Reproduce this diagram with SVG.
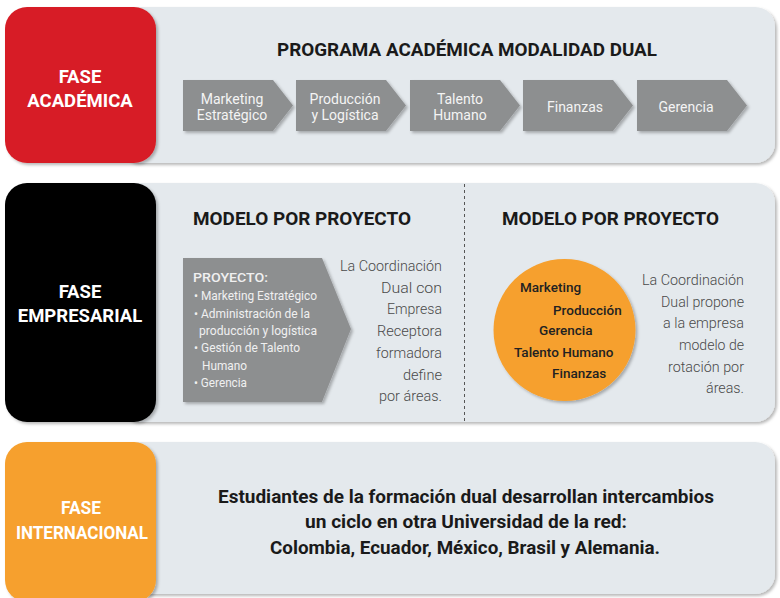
<svg xmlns="http://www.w3.org/2000/svg" width="780" height="598" viewBox="0 0 780 598">
<defs>
<filter id="sh" x="-5%" y="-5%" width="110%" height="115%">
<feDropShadow dx="2" dy="2" stdDeviation="1.6" flood-color="#000" flood-opacity="0.28"/>
</filter>
<style>
.panel{fill:#E4E9ED;filter:url(#sh)}
.phase{filter:url(#sh)}
.plabel{font-family:Roboto,"Liberation Sans",sans-serif;font-weight:700;font-size:18.5px;fill:#fff;text-anchor:middle}
.title{font-family:Roboto,"Liberation Sans",sans-serif;font-weight:700;font-size:18.5px;fill:#1a1a1a}
.chev{fill:#8D8F90;filter:url(#sh)}
.ctext{font-family:Roboto,"Liberation Sans",sans-serif;font-weight:400;font-size:14px;fill:#F4F4F4;text-anchor:middle}
.ptext{font-family:Roboto,"Liberation Sans",sans-serif;font-size:13px;fill:#F0F0F0}
.desc{font-family:Roboto,"Liberation Sans",sans-serif;font-weight:300;font-size:15px;fill:#4a4a4a;text-anchor:end}
.circ{font-family:Roboto,"Liberation Sans",sans-serif;font-weight:500;font-size:13.5px;fill:#222}
.intl{font-family:Roboto,"Liberation Sans",sans-serif;font-weight:700;font-size:18px;fill:#1a1a1a;text-anchor:middle}
</style>
</defs>
<rect width="780" height="598" fill="#fff"/>

<!-- Row 1 -->
<g id="panel-academica">
<rect class="panel" x="120" y="7" width="655" height="156" rx="20"/>
<text class="title" x="277" y="56" textLength="380" lengthAdjust="spacingAndGlyphs">PROGRAMA ACADÉMICA MODALIDAD DUAL</text>
</g>
<g id="fase-academica">
<rect class="phase" x="5" y="7" width="151" height="156" rx="22" fill="#D71F26"/>
<text class="plabel" x="80" y="83">FASE</text>
<text class="plabel" x="80" y="107">ACADÉMICA</text>
</g>
<g id="chev-marketing">
<path class="chev" d="M183 80 H273 L293 105.5 L273 131 H183 Z"/>
<text class="ctext" x="232" y="104">Marketing</text>
<text class="ctext" x="232" y="120">Estratégico</text>
</g>
<g id="chev-produccion">
<path class="chev" d="M296 80 H386 L406 105.5 L386 131 H296 Z"/>
<text class="ctext" x="345" y="104">Producción</text>
<text class="ctext" x="345" y="120">y Logística</text>
</g>
<g id="chev-talento">
<path class="chev" d="M410 80 H500 L520 105.5 L500 131 H410 Z"/>
<text class="ctext" x="460" y="104">Talento</text>
<text class="ctext" x="460" y="120">Humano</text>
</g>
<g id="chev-finanzas">
<path class="chev" d="M523 80 H613 L633 105.5 L613 131 H523 Z"/>
<text class="ctext" x="575" y="112">Finanzas</text>
</g>
<g id="chev-gerencia">
<path class="chev" d="M637 80 H727 L747 105.5 L727 131 H637 Z"/>
<text class="ctext" x="686" y="112">Gerencia</text>
</g>

<!-- Row 2 -->
<g id="panel-empresarial">
<rect class="panel" x="120" y="183" width="655" height="239" rx="20"/>
<line x1="464.5" y1="184" x2="464.5" y2="421" stroke="#555" stroke-width="1" stroke-dasharray="3 3"/>
<text class="title" x="193" y="225" textLength="218" lengthAdjust="spacingAndGlyphs">MODELO POR PROYECTO</text>
<text class="title" x="502" y="225" textLength="217" lengthAdjust="spacingAndGlyphs">MODELO POR PROYECTO</text>
</g>
<g id="fase-empresarial">
<rect class="phase" x="5" y="183" width="151" height="239" rx="22" fill="#000"/>
<text class="plabel" x="80" y="298">FASE</text>
<text class="plabel" x="80" y="322">EMPRESARIAL</text>
</g>
<g id="proyecto">
<path class="chev" d="M183 258 H322 L351 329 L322 402 H183 Z"/>
<text class="ptext" x="193" y="282" font-size="17" font-weight="500" textLength="75" lengthAdjust="spacingAndGlyphs">PROYECTO:</text>
<text class="ptext" x="194" y="300" textLength="123" lengthAdjust="spacingAndGlyphs">• Marketing Estratégico</text>
<text class="ptext" x="194" y="317.5" textLength="116" lengthAdjust="spacingAndGlyphs">• Administración de la</text>
<text class="ptext" x="199" y="335" textLength="118" lengthAdjust="spacingAndGlyphs">producción y logística</text>
<text class="ptext" x="194" y="352" textLength="106" lengthAdjust="spacingAndGlyphs">• Gestión de Talento</text>
<text class="ptext" x="202" y="369.5" textLength="45" lengthAdjust="spacingAndGlyphs">Humano</text>
<text class="ptext" x="194" y="387" textLength="53" lengthAdjust="spacingAndGlyphs">• Gerencia</text>
</g>
<g id="desc-proyecto">
<text class="desc" x="442" y="271" textLength="102" lengthAdjust="spacingAndGlyphs">La Coordinación</text>
<text class="desc" x="442" y="293" textLength="61" lengthAdjust="spacingAndGlyphs">Dual con</text>
<text class="desc" x="442" y="314" textLength="55" lengthAdjust="spacingAndGlyphs">Empresa</text>
<text class="desc" x="442" y="336" textLength="65" lengthAdjust="spacingAndGlyphs">Receptora</text>
<text class="desc" x="442" y="358" textLength="66" lengthAdjust="spacingAndGlyphs">formadora</text>
<text class="desc" x="442" y="380" textLength="39" lengthAdjust="spacingAndGlyphs">define</text>
<text class="desc" x="442" y="401" textLength="63" lengthAdjust="spacingAndGlyphs">por áreas.</text>
</g>
<g id="rotacion">
<circle cx="564.5" cy="330" r="71" fill="#F6A02D" filter="url(#sh)"/>
<text class="circ" x="520" y="292">Marketing</text>
<text class="circ" x="553" y="315">Producción</text>
<text class="circ" x="539" y="335">Gerencia</text>
<text class="circ" x="514" y="357">Talento Humano</text>
<text class="circ" x="552" y="378">Finanzas</text>
</g>
<g id="desc-rotacion">
<text class="desc" x="744" y="285" textLength="102" lengthAdjust="spacingAndGlyphs">La Coordinación</text>
<text class="desc" x="744" y="306.5" textLength="83" lengthAdjust="spacingAndGlyphs">Dual propone</text>
<text class="desc" x="744" y="328" textLength="81" lengthAdjust="spacingAndGlyphs">a la empresa</text>
<text class="desc" x="744" y="350" textLength="65" lengthAdjust="spacingAndGlyphs">modelo de</text>
<text class="desc" x="744" y="371.5" textLength="76" lengthAdjust="spacingAndGlyphs">rotación por</text>
<text class="desc" x="744" y="393" textLength="38" lengthAdjust="spacingAndGlyphs">áreas.</text>
</g>

<!-- Row 3 -->
<g id="panel-internacional">
<rect class="panel" x="120" y="442" width="655" height="152" rx="20"/>
<text class="intl" x="466" y="503" textLength="496" lengthAdjust="spacingAndGlyphs">Estudiantes de la formación dual desarrollan intercambios</text>
<text class="intl" x="466" y="528" textLength="322" lengthAdjust="spacingAndGlyphs">un ciclo en otra Universidad de la red:</text>
<text class="intl" x="465" y="554" textLength="390" lengthAdjust="spacingAndGlyphs">Colombia, Ecuador, México, Brasil y Alemania.</text>
</g>
<g id="fase-internacional">
<rect class="phase" x="5" y="442" width="151" height="160" rx="22" fill="#F6A02D"/>
<text class="plabel" x="81" y="514" font-size="17" textLength="40" lengthAdjust="spacingAndGlyphs">FASE</text>
<text class="plabel" x="82" y="539" font-size="17" textLength="132" lengthAdjust="spacingAndGlyphs">INTERNACIONAL</text>
</g>
</svg>
